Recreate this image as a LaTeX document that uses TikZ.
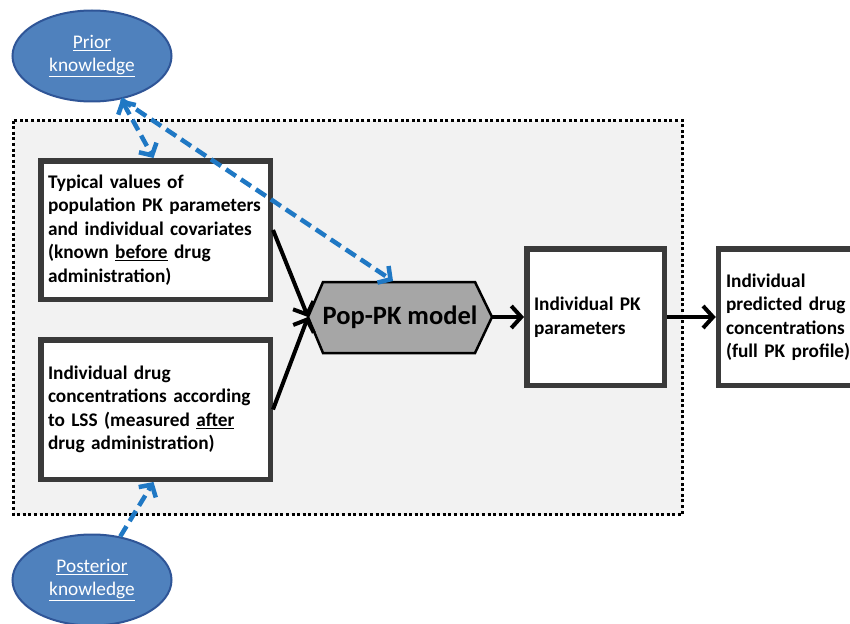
\documentclass[tikz,border=0pt]{standalone}
\usepackage{fontspec}
\setmainfont{Carlito}
\usetikzlibrary{arrows.meta,shapes.geometric}
\definecolor{boxgray}{HTML}{3A3A3A}
\definecolor{bggray}{HTML}{F2F2F2}
\definecolor{ellblue}{HTML}{4F81BD}
\definecolor{ellborder}{HTML}{2F5597}
\definecolor{dashblue}{HTML}{1F78C4}
\definecolor{hexgray}{HTML}{A6A6A6}
\begin{document}
\begin{tikzpicture}[x=1pt,y=-1pt,
  txtbox/.style={draw=boxgray, line width=5.5pt, fill=white, inner xsep=7.25pt, inner ysep=0pt,
    align=left, font=\fontsize{19.3}{23.5}\selectfont\bfseries},
  knowl/.style={ellipse, draw=ellborder, line width=2pt, fill=ellblue, text=white,
    minimum width=159pt, minimum height=91pt, inner sep=0pt, align=center,
    font=\fontsize{19.3}{23}\selectfont},
  blackarrow/.style={draw=black, line width=4pt, -{Straight Barb[length=10pt,width=22pt,line width=4pt]}},
  bluetip/.tip={Straight Barb[length=9pt,width=20pt,line width=4.5pt]},
  bluearrow/.style={draw=dashblue, line width=4.5pt, dash pattern=on 12pt off 6pt, -bluetip}
]
\useasboundingbox (0,0) rectangle (850,623);
\fill[white] (0,0) rectangle (850,623);
% dotted frame
\draw[fill=bggray, line width=3pt, dash pattern=on 3pt off 2.6pt] (13.5,120.5) rectangle (682.5,514.5);

% ellipses
\node[knowl] (prior) at (92,56) {\underline{Prior}\\\underline{knowledge}};
\node[knowl] (post) at (92,580) {\underline{Posterior}\\\underline{knowledge}};

% boxes
\node[txtbox, minimum width=229.5pt, minimum height=138.5pt, text width=215pt] (typ) at (155.5,230)
  {Typical values of\\population PK parameters\\and individual covariates\\(known \underline{before} drug\\administration)};
\node[txtbox, minimum width=229.5pt, minimum height=139.5pt, text width=215pt] (drug) at (155.5,409.5)
  {Individual drug\\concentrations according\\to LSS (measured \underline{after}\\drug administration)};
\node[txtbox, minimum width=137.5pt, minimum height=136.5pt, text width=123pt] (pk) at (595.5,317)
  {Individual PK\\parameters};
\node[txtbox, minimum width=146pt, minimum height=136.5pt, text width=131pt] (pred) at (791.5,317)
  {Individual\\predicted drug\\concentrations\\(full PK profile)};

% hexagon
\draw[fill=hexgray, line width=2.5pt] (308,317) coordinate (hexL) -- (323,282) -- (475,282) -- (492,317) coordinate (hexR)
  -- (475,353) -- (323,353) -- cycle;
\coordinate (hexT) at (393,281);
\node[inner sep=0pt, font=\fontsize{26.5}{30}\selectfont\bfseries] (hex) at (400,317) {Pop-PK model};

% black arrows
\draw[blackarrow] (typ.east) -- (hexL);
\draw[blackarrow] (drug.east) -- (hexL);
\draw[blackarrow] (hexR) -- (pk.west);
\draw[blackarrow] (pk.east) -- (pred.west);

% blue dashed arrows
\draw[bluearrow, bluetip-bluetip] (prior.-56) -- ([xshift=-2pt]typ.north);
\draw[bluearrow] (prior.-56) -- (hexT);
\draw[bluearrow] (post.57) -- ([xshift=-2pt]drug.south);
\end{tikzpicture}
\end{document}
